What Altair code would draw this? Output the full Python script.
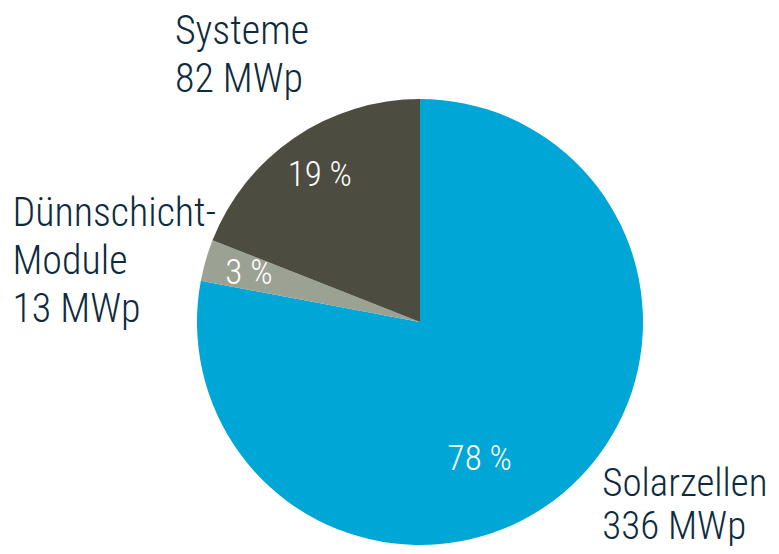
import altair as alt
import pandas as pd

categories = ["Solarzellen", "Dünnschicht-Module", "Systeme"]
label_names = ["Solarzellen", "Dünnschicht-\nModule", "Systeme"]
capacity_mwp = [336, 13, 82]
share_pct = [78, 3, 19]
colors = ["#00A6D6", "#9BA294", "#4D4C40"]

df = pd.DataFrame({
    "cat": categories,
    "idx": [0, 1, 2],
    "mwp": capacity_mwp,
    "pct_label": [f"{p} %" for p in share_pct],
    "out_label": [f"{n}\n{v} MWp" for n, v in zip(label_names, capacity_mwp)],
})

CX, CY = 412, 314
R = 223
FONT = "Roboto Condensed, Liberation Sans Narrow, sans-serif"
TXT = "#0E2B3E"

base = alt.Chart(df).encode(
    theta=alt.Theta("mwp:Q", stack=True),
    order=alt.Order("idx:Q", sort="ascending"),
    x=alt.value(CX),
    y=alt.value(CY),
)

pie = base.mark_arc(outerRadius=R).encode(
    color=alt.Color("cat:N", scale=alt.Scale(domain=categories, range=colors), legend=None)
)


def label(cond, field, **kw):
    return base.mark_text(font=FONT, fontWeight=300, lineBreak="\n", **kw).encode(
        text=alt.condition(cond, field, alt.value(""))
    )


pct_small = label(alt.datum.idx > 0, "pct_label:N", radius=178, fontSize=35,
                  color="white", align="center", baseline="middle")
pct_big = label(alt.datum.idx == 0, "pct_label:N", radius=150, dx=-36, dy=22,
                fontSize=35, color="white", align="center", baseline="middle")

out_sys = label(alt.datum.idx == 2, "out_label:N", radius=240, dx=-110, dy=-112,
                fontSize=40, lineHeight=48, color=TXT, align="left", baseline="top")
out_thin = label(alt.datum.idx == 1, "out_label:N", radius=240, dx=-177, dy=-62,
                 fontSize=40, lineHeight=48, color=TXT, align="left", baseline="top")
out_solar = label(alt.datum.idx == 0, "out_label:N", radius=240, dx=29, dy=-42,
                  fontSize=39, lineHeight=43, color=TXT, align="left", baseline="top")

chart = alt.layer(pie, pct_small, pct_big, out_sys, out_thin, out_solar).properties(
    width=763, height=538, padding=0, autosize=alt.AutoSizeParams(type="none")
).configure_view(stroke=None)

chart.save("out.html", embed_options={"renderer": "svg", "actions": False})
